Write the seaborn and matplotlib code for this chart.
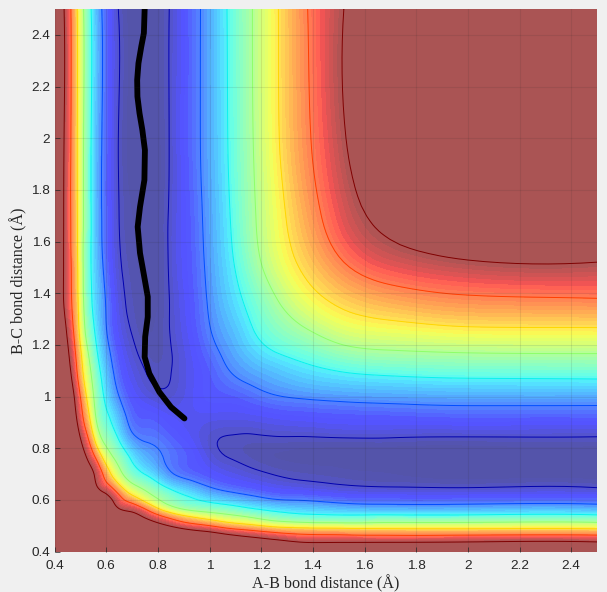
import numpy as np
import pandas as pd
import matplotlib
matplotlib.use("Agg")
import matplotlib.pyplot as plt
import matplotlib.tri as mtri
from matplotlib.colors import ListedColormap
import seaborn as sns

# Bond-distance nodes (angstrom), same for both axes
grid_nodes = [.40, .44, .47, .50, .53, .56, .60, .65, .70, .76, .84, .92, 1.0, 1.08, 1.16, 1.26, 1.38, 1.52, 1.7, 2.0, 2.5]

# Surface heights, on the colour scale 0..1 (lower triangle, the surface is symmetric)
surface_rows = [
    [1.5],
    [1.5, 1.5],
    [1.5, 1.5, 1.5],
    [1.5, 1.5, 1.5, 1.5],
    [1.5, 1.5, 1.5, 1.5, 1.5],
    [1.5, 1.5, 1.5, 1.5, 1.45, 1.35],
    [1.5, 1.5, 1.5, 1.45, 1.35, 1.22, 1.08],
    [1.5, 1.5, 1.45, 1.35, 1.22, 1.03, .90, .72],
    [1.5, 1.45, 1.4, 1.25, 1.1, .97, .77, .565, .43],
    [1.4, 1.35, 1.3, 1.15, .98, .84, .62, .47, .345, .26],
    [1.3, 1.3, 1.2, 1.0, .84, .63, .47, .345, .225, .185, .15],
    [1.3, 1.3, 1.12, .9, .72, .52, .385, .27, .16, .135, .105, .095],
    [1.3, 1.2, 1.04, .84, .64, .48, .33, .2, .12, .075, .055, .09, .125],
    [1.3, 1.12, .97, .76, .58, .44, .29, .155, .085, .04, .035, .085, .135, .19],
    [1.3, 1.08, .92, .71, .53, .39, .25, .125, .06, .02, .03, .09, .16, .23, .293],
    [1.3, 1.03, .86, .64, .46, .34, .205, .09, .035, 0, .035, .105, .195, .27, .35, .44],
    [1.3, .97, .82, .61, .42, .31, .19, .07, .02, -.01, .035, .115, .215, .31, .40, .52, .635],
    [1.3, .97, .81, .6, .41, .29, .16, .05, .01, -.02, .04, .125, .23, .34, .46, .6, .72, .84],
    [1.3, .97, .8, .6, .42, .28, .15, .04, 0, -.03, .04, .13, .24, .36, .49, .635, .78, .93, 1.06],
    [1.3, .98, .8, .6, .42, .28, .15, .035, -.02, -.04, .035, .14, .25, .375, .505, .665, .825, .99, 1.18, 1.3],
    [1.3, .98, .8, .6, .42, .28, .15, .035, -.02, -.04, .035, .14, .25, .38, .51, .67, .84, 1.0, 1.2, 1.3, 1.3],
]

# Reaction trajectory
path_ab = [.749, .746, .736, .725, .72, .721, .729, .74, .75, .748, .731, .722, .731, .745, .761, .761, .751, .749, .767, .806, .851, .903]
path_bc = [2.5, 2.407, 2.355, 2.29, 2.225, 2.161, 2.097, 2.032, 1.954, 1.838, 1.734, 1.657, 1.555, 1.477, 1.386, 1.308, 1.231, 1.153, 1.089, 1.017, .959, .915]

line_levels = [.04, .2, .36, .52, .68, .84, 1.0]
x_ticks = [.4, .6, .8, 1, 1.2, 1.4, 1.6, 1.8, 2, 2.2, 2.4]
y_ticks = [.4, .6, .8, 1, 1.2, 1.4, 1.6, 1.8, 2, 2.2, 2.4]
tick_labels = ["0.4", "0.6", "0.8", "1", "1.2", "1.4", "1.6", "1.8", "2", "2.2", "2.4"]

sns.set_theme(style="white")
plt.rcParams["font.family"] = ["Liberation Sans", "DejaVu Sans"]

g = np.array(grid_nodes)
n = len(g)
Z = np.zeros((n, n))
for i, row in enumerate(surface_rows):
    for j, v in enumerate(row):
        Z[i, j] = v
        Z[j, i] = v

fig = plt.figure(figsize=(6.07, 5.92), dpi=100, facecolor="#f0f0f0")
ax = fig.add_axes([54.5 / 607, 1 - 551.5 / 592, (597 - 54.5) / 607, (551.5 - 9) / 592])

# Every cell of the table is split along its anti-diagonal, the direction the corners of the valley run in
X, Y = np.meshgrid(g, g)
triangles = []
for i in range(n - 1):
    for j in range(n - 1):
        a, b, c, d = i * n + j, i * n + j + 1, (i + 1) * n + j, (i + 1) * n + j + 1
        triangles += [[a, b, c], [b, d, c]]
tri = mtri.Triangulation(X.ravel(), Y.ravel(), triangles)
interp = mtri.CubicTriInterpolator(tri, Z.ravel(), kind="min_E")
tri_fine, z_fine = mtri.UniformTriRefiner(tri).refine_field(Z.ravel(), triinterpolator=interp, subdiv=3)

# Washed-out jet, opaque, so that neighbouring bands do not double-blend along their seams
jet = plt.get_cmap("jet")
washed = ListedColormap(0.67 * jet(np.linspace(0, 1, 256))[:, :3] + 0.33)
fill_levels = np.linspace(0, 1, 51)
ax.tricontourf(tri_fine, z_fine, levels=fill_levels, cmap=washed, vmin=0, vmax=1, extend="both")
ax.tricontour(tri_fine, z_fine, levels=line_levels, cmap="jet", vmin=0, vmax=1, linewidths=0.7)

traj = pd.DataFrame({"ab": path_ab, "bc": path_bc})
sns.lineplot(data=traj, x="ab", y="bc", sort=False, estimator=None, color="black", linewidth=4.2, ax=ax)

ax.set_xlim(.4, 2.5)
ax.set_ylim(.4, 2.5)
ax.set_xticks(x_ticks, tick_labels)
ax.set_yticks(y_ticks, tick_labels)
ax.grid(True, color="#262626", alpha=0.1, linewidth=0.8)
ax.set_axisbelow(False)
ax.tick_params(direction="in", length=3.5, width=0.5, color="#262626", labelcolor="#262626", labelsize=9.7, pad=3, bottom=True, left=True)
ax.tick_params(axis="x", pad=6)
for s in ax.spines.values():
    s.set_visible(False)
ax.set_xlabel("A-B bond distance (Å)", family=["Liberation Serif"], fontsize=11.6, color="#262626", labelpad=2)
ax.set_ylabel("B-C bond distance (Å)", family=["Liberation Serif"], fontsize=11.6, color="#262626", labelpad=3)

fig.savefig("out.png", dpi=100, facecolor=fig.get_facecolor())
